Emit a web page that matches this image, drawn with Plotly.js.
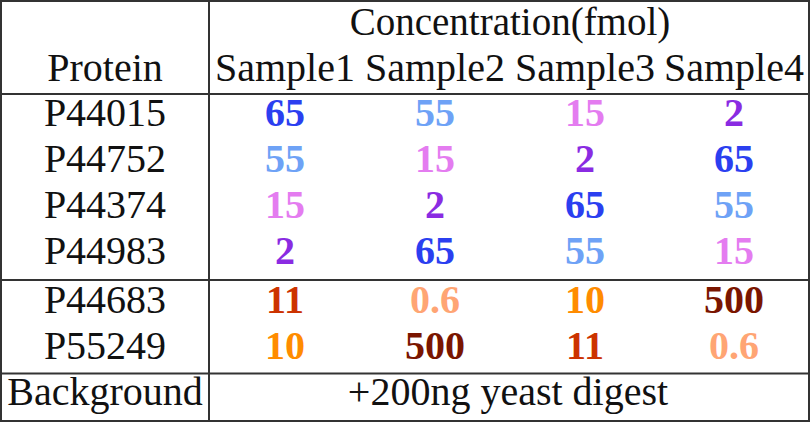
<!DOCTYPE html>
<html>
<head>
<meta charset="utf-8">
<script src="https://cdn.plot.ly/plotly-3.0.1.min.js"></script>
<style>html,body{margin:0;padding:0;background:#fff;}#chart{width:810px;height:422px;}</style>
</head>
<body>
<div id="chart"></div>
<script>
// ---- data ----
var proteins = ["P44015", "P44752", "P44374", "P44983", "P44683", "P55249"];
var samples = ["Sample1", "Sample2", "Sample3", "Sample4"];
var sample1 = ["65", "55", "15", "2", "11", "10"];
var sample2 = ["55", "15", "2", "65", "0.6", "500"];
var sample3 = ["15", "2", "65", "55", "10", "11"];
var sample4 = ["2", "65", "55", "15", "500", "0.6"];
var groupTitle = "Concentration(fmol)";
var firstHeader = "Protein";
var backgroundLabel = "Background";
var backgroundValue = "+200ng yeast digest";

// ---- styling ----
var valueColors = {
  "65": "#2b3ff0", "55": "#6ea2f6", "15": "#e47cf0", "2": "#8a2be2",
  "11": "#cc3300", "0.6": "#ffa574", "10": "#ff8c00", "500": "#7a1500"
};
var FONT = "'Liberation Serif', 'Times New Roman', serif";
var FS = 40;
var colX = [105, 285, 435, 585, 734];
var dy = 1;
var rowY = [115, 161, 207, 253, 302, 348].map(function(v){ return v + dy; });
var headY1 = 25, headY2 = 71, bgY = 395;

var traces = [];
// group title
traces.push({
  type: "scatter", mode: "text", hoverinfo: "skip", showlegend: false,
  x: [510], y: [headY1], text: [groupTitle],
  textposition: "middle center",
  cliponaxis: false,
  textfont: {family: FONT, size: 39, color: "#111"}
});
// header texts
traces.push({
  type: "scatter", mode: "text", hoverinfo: "skip", showlegend: false,
  x: [colX[0]].concat(samples.map(function(s, i){ return colX[i+1]; })),
  y: [headY2].concat(samples.map(function(){ return headY2; })),
  text: [firstHeader].concat(samples),
  textposition: "middle center",
  cliponaxis: false,
  textfont: {family: FONT, size: FS, color: "#111"}
});
// protein names
traces.push({
  type: "scatter", mode: "text", hoverinfo: "skip", showlegend: false,
  x: proteins.map(function(){ return colX[0]; }),
  y: proteins.map(function(p, i){ return rowY[i]; }),
  text: proteins,
  textposition: "middle center",
  textfont: {family: FONT, size: FS, color: "#111"}
});
// values
[sample1, sample2, sample3, sample4].forEach(function(col, j){
  traces.push({
    type: "scatter", mode: "text", hoverinfo: "skip", showlegend: false,
    x: col.map(function(){ return colX[j+1]; }),
    y: col.map(function(v, i){ return rowY[i]; }),
    text: col,
    textposition: "middle center",
    textfont: {family: FONT, size: FS, weight: "bold",
               color: col.map(function(v){ return valueColors[v]; })}
  });
});
// background row
traces.push({
  type: "scatter", mode: "text", hoverinfo: "skip", showlegend: false,
  x: [colX[0], 508], y: [bgY, bgY],
  text: [backgroundLabel, backgroundValue],
  textposition: "middle center",
  cliponaxis: false,
  textfont: {family: FONT, size: FS, color: "#111"}
});

var lc = "#333";
function hline(y){ return {type:"line", xref:"x", yref:"y", x0:1, x1:809, y0:y, y1:y, line:{color:lc, width:2}}; }
var shapes = [
  {type:"rect", xref:"x", yref:"y", x0:1, x1:809, y0:1, y1:421, line:{color:lc, width:2}},
  {type:"line", xref:"x", yref:"y", x0:209, x1:209, y0:1, y1:421, line:{color:lc, width:2}},
  hline(94), hline(280), hline(373.5)
];

var layout = {
  width: 810, height: 422,
  margin: {l:0, r:0, t:0, b:0},
  paper_bgcolor: "#fff", plot_bgcolor: "#fff",
  xaxis: {range:[0,810], visible:false, fixedrange:true},
  yaxis: {range:[422,0], visible:false, fixedrange:true},
  shapes: shapes,
  showlegend: false
};
Plotly.newPlot("chart", traces, layout, {staticPlot:true, displayModeBar:false});
</script>
</body>
</html>
